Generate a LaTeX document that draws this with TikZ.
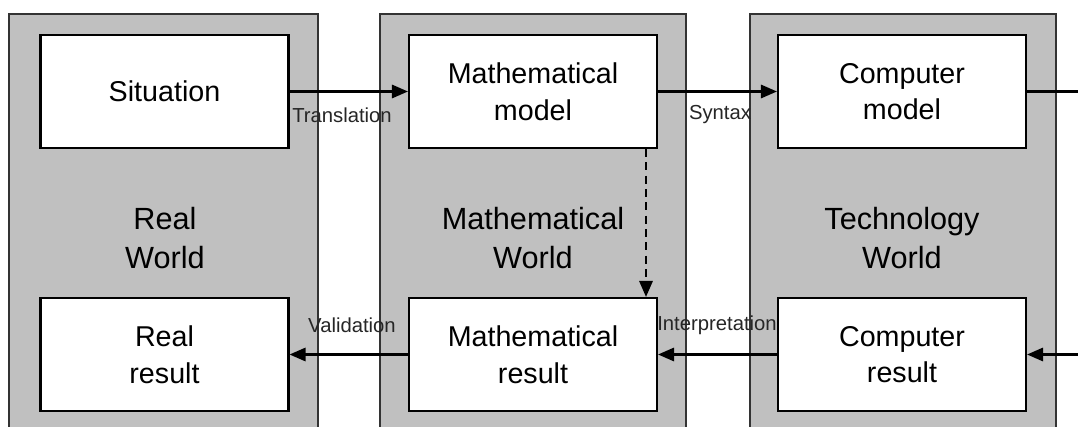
\documentclass[tikz,border=0pt]{standalone}
\usepackage{fontspec}
\setmainfont{Liberation Sans}
\usetikzlibrary{arrows.meta}
\definecolor{panelgray}{HTML}{C0C0C0}
\definecolor{edge}{HTML}{333333}
\tikzset{
  panel/.style={fill=panelgray, draw=edge, line width=1.8pt},
  box/.style={draw=black, fill=white, line width=1.6pt, minimum width=186pt, minimum height=84.75pt, inner sep=0pt, align=center, font=\fontsize{21.5}{27.5}\selectfont},
  ptitle/.style={align=center, font=\fontsize{23}{29}\selectfont, inner sep=0pt},
  lbl/.style={font=\fontsize{15.2}{18}\selectfont, inner sep=0pt, text=black!85},
  arr/.style={line width=1.6pt, -{Triangle[length=12pt,width=10pt]}},
  conn/.style={line width=1.6pt},
}
\begin{document}
\begin{tikzpicture}[x=0.75pt,y=-0.75pt]
\useasboundingbox (0,0) rectangle (1078,427);
\clip (0,0) rectangle (1078,427);
\fill[white] (0,0) rectangle (1078,427);
% panels
\draw[panel] (9,14) rectangle (318,445);
\draw[panel] (380,14) rectangle (686,445);
\draw[panel] (750,14) rectangle (1056,445);
% panel titles
\node[ptitle] (tReal) at (165,238) {Real\\World};
\node[ptitle] (tMath) at (533,238) {Mathematical\\World};
\node[ptitle] (tTech) at (902,238) {Technology\\World};
% boxes
\node[box] (sit) at (164.5,91.5) {Situation};
\node[box] (mm) at (533,91.5) {Mathematical\\model};
\node[box] (cm) at (902,91.5) {Computer\\model};
\node[box] (rr) at (164.5,354.5) {Real\\result};
\node[box] (mr) at (533,354.5) {Mathematical\\result};
\node[box] (cr) at (902,354.5) {Computer\\result};
% free ends
\coordinate (outTop) at (1080,91.5);
\coordinate (inBot) at (1080,354.5);
% connectors
\draw[arr] (sit.east) -- (mm.west);
\draw[arr] (mm.east) -- (cm.west);
\draw[conn] (cm.east) -- (outTop);
\draw[arr] (inBot) -- (cr.east);
\draw[arr] (cr.west) -- (mr.east);
\draw[arr] (mr.west) -- (rr.east);
\draw[arr, dash pattern=on 6pt off 4pt] ([xshift=84.75pt]mm.south) -- ([xshift=84.75pt]mr.north);
% labels
\node[lbl] (lTrans) at (342,115) {Translation};
\node[lbl] (lSyn) at (720,115) {Syntax};
\node[lbl] (lVal) at (352,325) {Validation};
\node[lbl] (lInt) at (717,325) {Interpretation};
\end{tikzpicture}
\end{document}
